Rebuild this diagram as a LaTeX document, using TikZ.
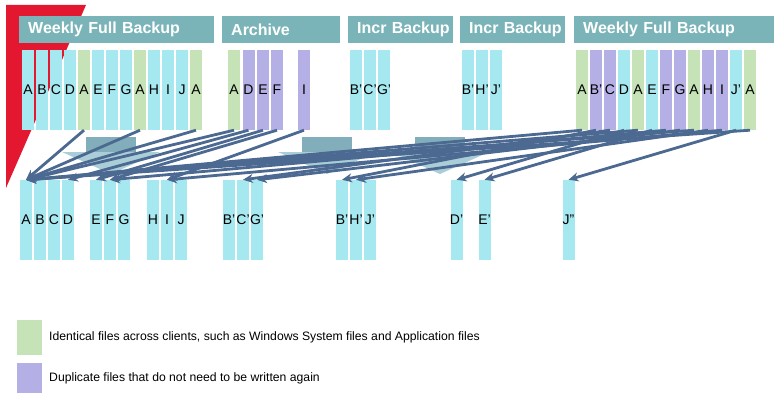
\documentclass[tikz,border=0pt]{standalone}
\usepackage{fontspec}
\setmainfont{Liberation Sans}
\usetikzlibrary{arrows.meta}

\definecolor{redband}{RGB}{227,24,48}
\definecolor{headteal}{RGB}{122,180,184}
\definecolor{newfile}{RGB}{166,232,240}
\definecolor{samefile}{RGB}{197,227,182}
\definecolor{dupfile}{RGB}{180,176,230}
\definecolor{linkblue}{RGB}{76,105,146}
\definecolor{blockteal}{RGB}{130,174,188}
\definecolor{blocklight}{RGB}{170,206,216}

\begin{document}
\begin{tikzpicture}[x=1pt,y=-1pt]
\tikzset{head/.style={fill=headteal,text=white,anchor=north west,minimum height=27pt,inner xsep=9pt,inner ysep=0pt,align=left,font=\bfseries\fontsize{16}{18}\selectfont}}
\tikzset{file/.style={minimum width=12pt,minimum height=80pt,inner sep=0pt,font=\fontsize{14}{16}\selectfont}}
\tikzset{link/.style={draw=linkblue,line width=2.8pt,-{Stealth[length=10pt,width=9pt]}}}
\tikzset{key/.style={minimum width=25pt,inner sep=0pt,anchor=north west}}
\tikzset{keytext/.style={anchor=west,inner sep=0pt,font=\fontsize{12.2}{14}\selectfont}}

\useasboundingbox (0,0) rectangle (778,393);

% red band behind the first backup
\fill[redband] (6,5) -- (86,5) -- (6,188) -- cycle;

% headers
\node[head,text width=177pt] (hfull1) at (19,16) {\mbox{Weekly Full Backup}};
\node[head,text width=100pt] (harch) at (222,16) {\mbox{Archive}};
\node[head,text width=87pt] (hincr1) at (348,16) {\mbox{Incr Backup}};
\node[head,text width=87pt] (hincr2) at (460,16) {\mbox{Incr Backup}};
\node[head,text width=182pt] (hfull2) at (574,16) {\mbox{Weekly Full Backup}};

% backup sets
\foreach \l/\c [count=\i] in {A/newfile,B/newfile,C/newfile,D/newfile,A/samefile,E/newfile,F/newfile,G/newfile,A/samefile,H/newfile,I/newfile,J/newfile,A/samefile}
  \node[file,fill=\c] (fa\i) at ({28+14*(\i-1)},90) {\makebox[0pt]{\l}};
\foreach \l/\c/\x [count=\i] in {A/samefile/234,D/dupfile/248.5,E/dupfile/263,F/dupfile/277,I/dupfile/304}
  \node[file,fill=\c] (ar\i) at (\x,90) {\makebox[0pt]{\l}};
\foreach \l [count=\i] in {B',C',G'}
  \node[file,fill=newfile] (ic\i) at ({356+14*(\i-1)},90) {\makebox[0pt]{\l}};
\foreach \l [count=\i] in {B',H',J'}
  \node[file,fill=newfile] (ih\i) at ({468+14*(\i-1)},90) {\makebox[0pt]{\l}};
\foreach \l/\c [count=\i] in {A/samefile,B'/dupfile,C/dupfile,D/newfile,A/samefile,E/newfile,F/dupfile,G/dupfile,A/samefile,H/dupfile,I/dupfile,J'/newfile,A/samefile}
  \node[file,fill=\c] (fb\i) at ({582+14*(\i-1)},90) {\makebox[0pt]{\l}};

% faded block arrows
\foreach \x in {86,302,415} {
  \fill[blocklight] (\x-24,152) -- (\x+74,152) -- (\x+25,174) -- cycle;
  \fill[blockteal] (\x,137) rectangle (\x+50,152);
}

% stored files
\foreach \l/\x in {A/26,B/40,C/54,D/68,E/96,F/110,G/124,H/153,I/167,J/181}
  \node[file,fill=newfile] (s\l) at (\x,220) {\makebox[0pt]{\l}};
\foreach \l/\n/\x in {B'/sB1/229,C'/sC1/243,G'/sG1/257,B'/sB2/342,H'/sH2/356,J'/sJ2/370,D'/sD1/456.5,E'/sE1/484.5,J''/sJ3/568.5}
  \node[file,fill=newfile] (\n) at (\x,220) {\makebox[0pt]{\l}};

% links to stored copies
\foreach \a in {fa5,fa9,fa13,ar1,fb1,fb5,fb9,fb13}
  \draw[link] (\a.south) -- (sA.north);
\draw[link] (ar2.south) -- (sD.north);
\draw[link] (ar3.south) -- (sE.north);
\draw[link] (ar4.south) -- (sF.north);
\draw[link] (ar5.south) -- (sI.north);
\draw[link] (fb2.south) -- (sB2.north);
\draw[link] (fb3.south) -- (sC1.north);
\draw[link] (fb4.south) -- (sD1.north);
\draw[link] (fb6.south) -- (sE1.north);
\draw[link] (fb7.south) -- (sF.north);
\draw[link] (fb8.south) -- (sG1.north);
\draw[link] (fb10.south) -- (sH2.north);
\draw[link] (fb11.south) -- (sI.north);
\draw[link] (fb12.south) -- (sJ3.north);

% legend
\node[key,fill=samefile,minimum height=35pt] (ksame) at (17,320) {};
\node[key,fill=dupfile,minimum height=30pt] (kdup) at (17,363) {};
\node[keytext] (tsame) at (49,337) {Identical files across clients, such as Windows System files and Application files};
\node[keytext] (tdup) at (49,378) {Duplicate files that do not need to be written again};
\end{tikzpicture}
\end{document}
